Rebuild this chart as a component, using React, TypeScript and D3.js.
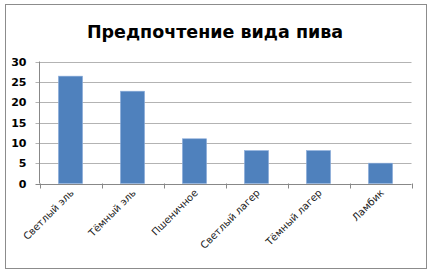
import React from "react";
import * as d3 from "d3";

const categories = ["Светлый эль", "Тёмный эль", "Пшеничное", "Светлый лагер", "Тёмный лагер", "Ламбик"];
const values = [26.4, 22.7, 11, 8.1, 8.1, 5];
const yTicks = [0, 5, 10, 15, 20, 25, 30];
const title = "Предпочтение вида пива";

export default function App() {
  const W = 432, H = 276;
  const left = 39.5, right = 411.5, top = 61.5, bottom = 183.5;
  const x = d3.scaleBand<string>().domain(categories).range([left, right]).paddingInner(0).paddingOuter(0);
  const y = d3.scaleLinear().domain([0, 30]).range([bottom, top]);
  const bw = x.bandwidth() * 0.39;
  const boundaries = d3.range(categories.length + 1).map((i) => left + i * x.step());
  return (
    <svg width={W} height={H} style={{ position: "absolute", left: 0, top: 0 }}>
      <rect x={0} y={0} width={W} height={H} fill="#fff" />
      <rect x={5.5} y={4.5} width={421} height={264} fill="#fff" stroke="#8c8c8c" strokeWidth={1} />
      <text x={215} y={38} textAnchor="middle" fontFamily="DejaVu Sans" fontWeight="bold" fontSize={17.5} fill="#000">{title}</text>
      {yTicks.map((t) => (
        <g key={t}>
          <line x1={left - 4} x2={right} y1={Math.round(y(t)) + 0.5} y2={Math.round(y(t)) + 0.5} stroke={t === 0 ? "#888" : "#b3b3b3"} strokeWidth={1} />
          <text x={26.5} y={y(t) + 4} textAnchor="end" fontFamily="DejaVu Sans" fontWeight="bold" fontSize={11} fill="#000">{t}</text>
        </g>
      ))}
      <line x1={left} x2={left} y1={top} y2={bottom} stroke="#888" />
      {boundaries.map((b, i) => (
        <line key={i} x1={Math.round(b) + 0.5} x2={Math.round(b) + 0.5} y1={bottom} y2={bottom + 5} stroke="#888" />
      ))}
      {categories.map((c, i) => {
        const cx = x(c)! + x.bandwidth() / 2;
        return (
          <rect key={c} x={cx - bw / 2} y={y(values[i])} width={bw} height={y(0) - y(values[i])} fill="#4f81bd" stroke="#8fb0dc" strokeWidth={0.6} />
        );
      })}
      {categories.map((c) => {
        const cx = x(c)! + x.bandwidth() / 2;
        return (
          <text key={c} transform={`translate(${cx + 4},${bottom + 10}) rotate(-45)`} textAnchor="end" fontFamily="DejaVu Sans" fontSize={10} fill="#222">{c}</text>
        );
      })}
    </svg>
  );
}
